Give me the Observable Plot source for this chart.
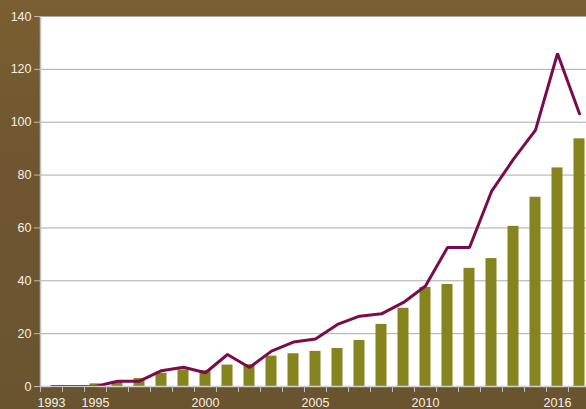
<!DOCTYPE html>
<html>
<head>
<meta charset="utf-8">
<script src="https://cdn.jsdelivr.net/npm/d3@7"></script>
<script src="https://cdn.jsdelivr.net/npm/@observablehq/plot@0.6"></script>
<style>
  html, body { margin: 0; padding: 0; overflow: hidden; }
  body {
    width: 586px; height: 409px;
    background: linear-gradient(180deg, #7a5f31 0%, #6f5630 40%, #6a5430 100%);
    font-family: "Liberation Sans", Arial, sans-serif;
  }
  #chart svg { display: block; background: transparent; }
</style>
</head>
<body>
<div id="chart"></div>
<script>
const years = [1993,1994,1995,1996,1997,1998,1999,2000,2001,2002,2003,2004,2005,2006,2007,2008,2009,2010,2011,2012,2013,2014,2015,2016,2017];
const barValues = [0,0,1,1.5,3,5,6.3,6,8.1,8.3,11.5,12.4,13.3,14.4,17.4,23.5,29.6,37.5,38.6,44.7,48.4,60.6,71.6,82.7,93.7];
const lineValues = [0,0,0,2,2,6,7.3,5.2,12.1,7.2,13.4,16.8,18,23.5,26.6,27.5,31.8,38,52.6,52.6,73.8,86,97,126,103.2];
const yTicks = [0,20,40,60,80,100,120,140];
const xLabelYears = [1993,1995,2000,2005,2010,2016];

const data = years.map((year, i) => ({year, bar: barValues[i], line: lineValues[i]}));
const boundaries = years.map(y => y - 0.5).concat([years[years.length - 1] + 0.5]);

const chart = Plot.plot({
  width: 586,
  height: 409,
  marginLeft: 40,
  marginRight: 0,
  marginTop: 16,
  marginBottom: 23,
  style: {fontFamily: "Liberation Sans, Arial, sans-serif", fontSize: "12px", background: "transparent"},
  x: {type: "linear", domain: [1992.5, 2017.5], range: [40, 590]},
  y: {domain: [0, 140]},
  marks: [
    Plot.frame({fill: "white", stroke: "none"}),
    Plot.gridY(yTicks, {stroke: "#aaaaaa", strokeOpacity: 1, strokeWidth: 1}),
    Plot.rectY(data, {x1: d => d.year - 0.25, x2: d => d.year + 0.25, y: "bar", fill: "#86841f"}),
    Plot.lineY(data, {x: "year", y: "line", stroke: "#7a0c4b", strokeWidth: 3, strokeLinejoin: "miter"}),
    Plot.ruleX([1992.5], {stroke: "#c0c0c0", strokeWidth: 1.5}),
    Plot.ruleY([0], {stroke: "#d0d0d0", strokeWidth: 1.5}),
    Plot.axisY({ticks: yTicks, tickSize: 6, tickPadding: 3, stroke: "#bbbbbb", fill: "#f4f0e6", fontSize: 12.5, label: null}),
    Plot.axisX({ticks: boundaries, tickSize: 6, tickFormat: () => "", stroke: "#bbbbbb", label: null}),
    Plot.axisX({ticks: xLabelYears, tickSize: 0, tickPadding: 12, tickFormat: d => String(d), fill: "#f4f0e6", fontSize: 12.5, label: null})
  ]
});
document.getElementById("chart").appendChild(chart);
</script>
</body>
</html>
